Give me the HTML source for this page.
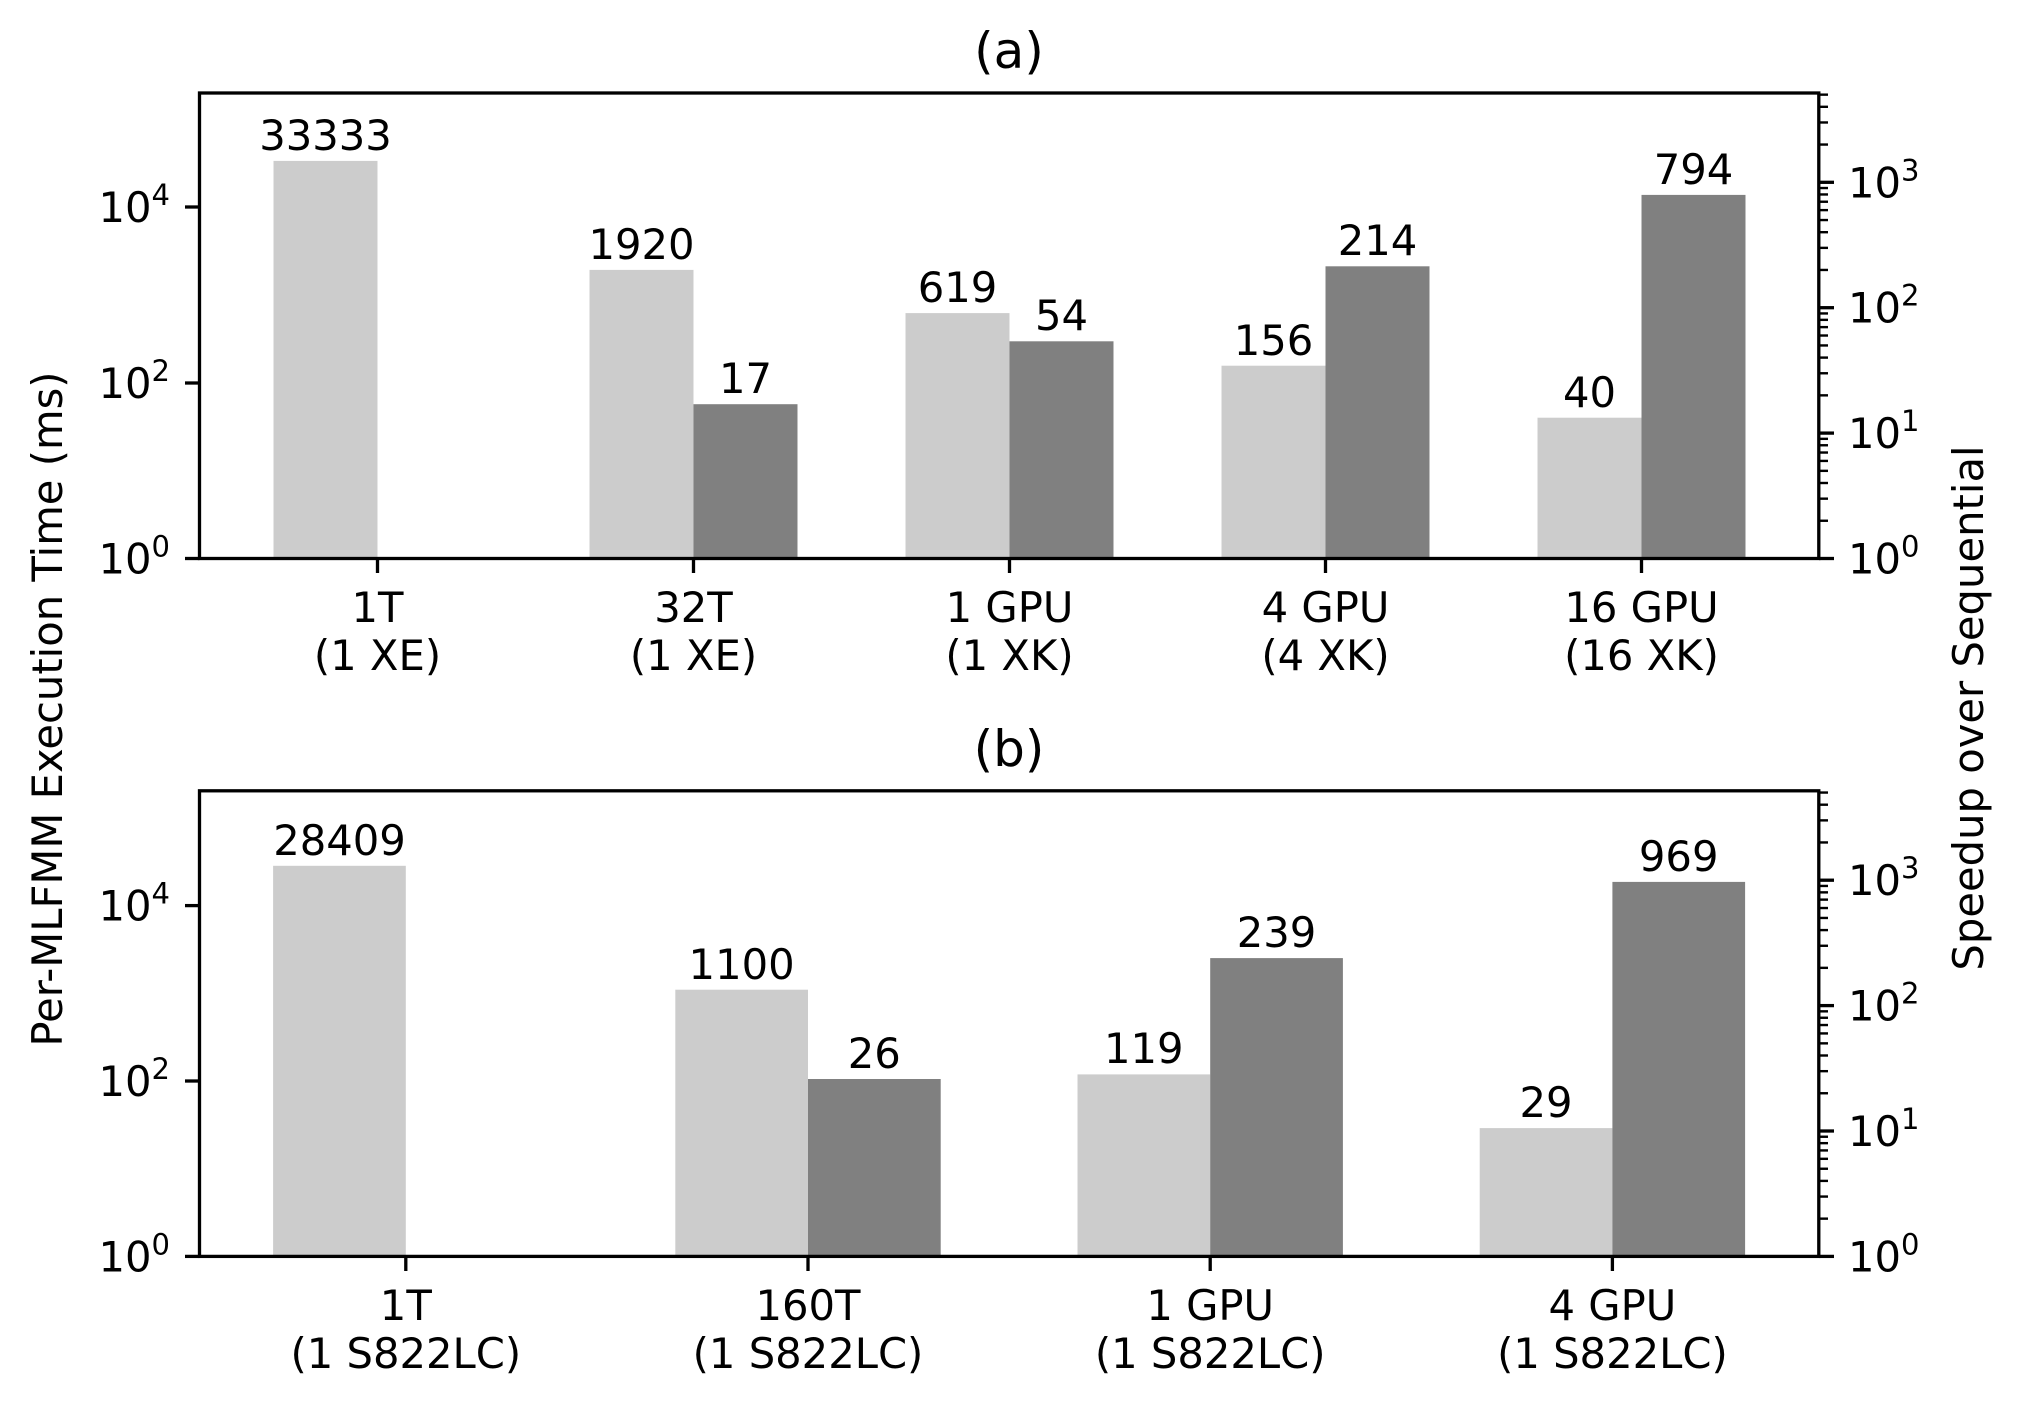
<!DOCTYPE html>
<html><head><meta charset="utf-8"><style>
html,body{margin:0;padding:0;background:#fff}
svg{display:block}
text{font-family:"DejaVu Sans","Liberation Sans",sans-serif;font-size:41.7px;fill:#000}
.sup{font-size:29px}
.ttl{font-size:50px}
</style></head><body>
<svg width="2021" height="1406" viewBox="0 0 2021 1406" xmlns="http://www.w3.org/2000/svg">
<defs>
<g id="mdec" stroke="#000" stroke-width="2.4">
<line x1="1819" x2="1828" y1="-37.75" y2="-37.75"/>
<line x1="1819" x2="1828" y1="-59.83" y2="-59.83"/>
<line x1="1819" x2="1828" y1="-75.5" y2="-75.5"/>
<line x1="1819" x2="1828" y1="-87.65" y2="-87.65"/>
<line x1="1819" x2="1828" y1="-97.58" y2="-97.58"/>
<line x1="1819" x2="1828" y1="-105.97" y2="-105.97"/>
<line x1="1819" x2="1828" y1="-113.24" y2="-113.24"/>
<line x1="1819" x2="1828" y1="-119.66" y2="-119.66"/>
</g>
<g id="mtop" stroke="#000" stroke-width="2.4">
<line x1="1819" x2="1828" y1="-37.75" y2="-37.75"/>
<line x1="1819" x2="1828" y1="-59.83" y2="-59.83"/>
<line x1="1819" x2="1828" y1="-75.5" y2="-75.5"/>
<line x1="1819" x2="1828" y1="-87.65" y2="-87.65"/>
</g>
</defs>

<!-- ===== (a) ===== -->
<text class="ttl" x="1009" y="68" text-anchor="middle">(a)</text>
<g>
<rect x="273.5" y="160.9" width="104" height="397.6" fill="#cccccc"/>
<rect x="589.5" y="269.9" width="104" height="288.6" fill="#cccccc"/>
<rect x="693.5" y="404.2" width="104" height="154.3" fill="#808080"/>
<rect x="905.5" y="313.1" width="104" height="245.4" fill="#cccccc"/>
<rect x="1009.5" y="341.3" width="104" height="217.2" fill="#808080"/>
<rect x="1221.5" y="365.7" width="104" height="192.8" fill="#cccccc"/>
<rect x="1325.5" y="266.3" width="104" height="292.2" fill="#808080"/>
<rect x="1537.5" y="417.7" width="104" height="140.8" fill="#cccccc"/>
<rect x="1641.5" y="194.9" width="104" height="363.6" fill="#808080"/>
</g>
<g text-anchor="middle">
<text x="325.5" y="150">33333</text>
<text x="641.5" y="259">1920</text>
<text x="745.5" y="393">17</text>
<text x="957.5" y="302">619</text>
<text x="1061.5" y="330">54</text>
<text x="1273.5" y="355">156</text>
<text x="1377.5" y="255">214</text>
<text x="1589.5" y="407">40</text>
<text x="1693.5" y="184">794</text>
</g>
<rect x="199.5" y="93" width="1619.3" height="465.5" fill="none" stroke="#000" stroke-width="3.3"/>
<g stroke="#000" stroke-width="3.3">
<line x1="185" x2="199.5" y1="207" y2="207"/>
<line x1="185" x2="199.5" y1="383" y2="383"/>
<line x1="185" x2="199.5" y1="558.5" y2="558.5"/>
<line x1="1819" x2="1834" y1="558.5" y2="558.5"/>
<line x1="1819" x2="1834" y1="433.1" y2="433.1"/>
<line x1="1819" x2="1834" y1="307.7" y2="307.7"/>
<line x1="1819" x2="1834" y1="182.3" y2="182.3"/>
<line x1="377.5" x2="377.5" y1="558.5" y2="573"/>
<line x1="693.5" x2="693.5" y1="558.5" y2="573"/>
<line x1="1009.5" x2="1009.5" y1="558.5" y2="573"/>
<line x1="1325.5" x2="1325.5" y1="558.5" y2="573"/>
<line x1="1641.5" x2="1641.5" y1="558.5" y2="573"/>
</g>
<use href="#mdec" transform="translate(0,558.5)"/>
<use href="#mdec" transform="translate(0,433.1)"/>
<use href="#mdec" transform="translate(0,307.7)"/>
<use href="#mtop" transform="translate(0,182.3)"/>
<g text-anchor="end">
<text x="170" y="222">10<tspan class="sup" dy="-17">4</tspan></text>
<text x="170" y="398">10<tspan class="sup" dy="-17">2</tspan></text>
<text x="170" y="573.5">10<tspan class="sup" dy="-17">0</tspan></text>
</g>
<g>
<text x="1848" y="573.5">10<tspan class="sup" dy="-17">0</tspan></text>
<text x="1848" y="448">10<tspan class="sup" dy="-17">1</tspan></text>
<text x="1848" y="322.7">10<tspan class="sup" dy="-17">2</tspan></text>
<text x="1848" y="197.3">10<tspan class="sup" dy="-17">3</tspan></text>
</g>
<g text-anchor="middle">
<text x="377.5" y="622">1T</text><text x="377.5" y="670">(1 XE)</text>
<text x="693.5" y="622">32T</text><text x="693.5" y="670">(1 XE)</text>
<text x="1009.5" y="622">1 GPU</text><text x="1009.5" y="670">(1 XK)</text>
<text x="1325.5" y="622">4 GPU</text><text x="1325.5" y="670">(4 XK)</text>
<text x="1641.5" y="622">16 GPU</text><text x="1641.5" y="670">(16 XK)</text>
</g>

<!-- ===== (b) ===== -->
<text class="ttl" x="1009" y="766" text-anchor="middle">(b)</text>
<g>
<rect x="273.1" y="865.8" width="132.7" height="390.6" fill="#cccccc"/>
<rect x="675.3" y="989.7" width="132.7" height="266.7" fill="#cccccc"/>
<rect x="808" y="1079" width="132.7" height="177.4" fill="#808080"/>
<rect x="1077.5" y="1074.4" width="132.7" height="182" fill="#cccccc"/>
<rect x="1210.2" y="958.1" width="132.7" height="298.3" fill="#808080"/>
<rect x="1479.7" y="1128.1" width="132.7" height="128.3" fill="#cccccc"/>
<rect x="1612.4" y="881.9" width="132.7" height="374.5" fill="#808080"/>
</g>
<g text-anchor="middle">
<text x="339.5" y="855">28409</text>
<text x="741.6" y="979">1100</text>
<text x="874.3" y="1068">26</text>
<text x="1143.8" y="1063">119</text>
<text x="1276.5" y="947">239</text>
<text x="1546" y="1117">29</text>
<text x="1678.7" y="871">969</text>
</g>
<rect x="199.5" y="790.8" width="1619.3" height="465.6" fill="none" stroke="#000" stroke-width="3.3"/>
<g stroke="#000" stroke-width="3.3">
<line x1="185" x2="199.5" y1="905.6" y2="905.6"/>
<line x1="185" x2="199.5" y1="1081" y2="1081"/>
<line x1="185" x2="199.5" y1="1256.4" y2="1256.4"/>
<line x1="1819" x2="1834" y1="1256.4" y2="1256.4"/>
<line x1="1819" x2="1834" y1="1131" y2="1131"/>
<line x1="1819" x2="1834" y1="1005.6" y2="1005.6"/>
<line x1="1819" x2="1834" y1="880.2" y2="880.2"/>
<line x1="405.8" x2="405.8" y1="1256.4" y2="1271"/>
<line x1="808" x2="808" y1="1256.4" y2="1271"/>
<line x1="1210.2" x2="1210.2" y1="1256.4" y2="1271"/>
<line x1="1612.4" x2="1612.4" y1="1256.4" y2="1271"/>
</g>
<use href="#mdec" transform="translate(0,1256.4)"/>
<use href="#mdec" transform="translate(0,1131)"/>
<use href="#mdec" transform="translate(0,1005.6)"/>
<use href="#mtop" transform="translate(0,880.2)"/>
<g text-anchor="end">
<text x="170" y="920.6">10<tspan class="sup" dy="-17">4</tspan></text>
<text x="170" y="1096">10<tspan class="sup" dy="-17">2</tspan></text>
<text x="170" y="1271.4">10<tspan class="sup" dy="-17">0</tspan></text>
</g>
<g>
<text x="1848" y="1271.4">10<tspan class="sup" dy="-17">0</tspan></text>
<text x="1848" y="1146">10<tspan class="sup" dy="-17">1</tspan></text>
<text x="1848" y="1020.6">10<tspan class="sup" dy="-17">2</tspan></text>
<text x="1848" y="895.2">10<tspan class="sup" dy="-17">3</tspan></text>
</g>
<g text-anchor="middle">
<text x="405.8" y="1320">1T</text><text x="405.8" y="1368">(1 S822LC)</text>
<text x="808" y="1320">160T</text><text x="808" y="1368">(1 S822LC)</text>
<text x="1210.2" y="1320">1 GPU</text><text x="1210.2" y="1368">(1 S822LC)</text>
<text x="1612.4" y="1320">4 GPU</text><text x="1612.4" y="1368">(1 S822LC)</text>
</g>

<!-- axis labels -->
<text transform="translate(62,709) rotate(-90)" text-anchor="middle">Per-MLFMM Execution Time (ms)</text>
<text transform="translate(1983,708) rotate(-90)" text-anchor="middle">Speedup over Sequential</text>
</svg>
</body></html>
